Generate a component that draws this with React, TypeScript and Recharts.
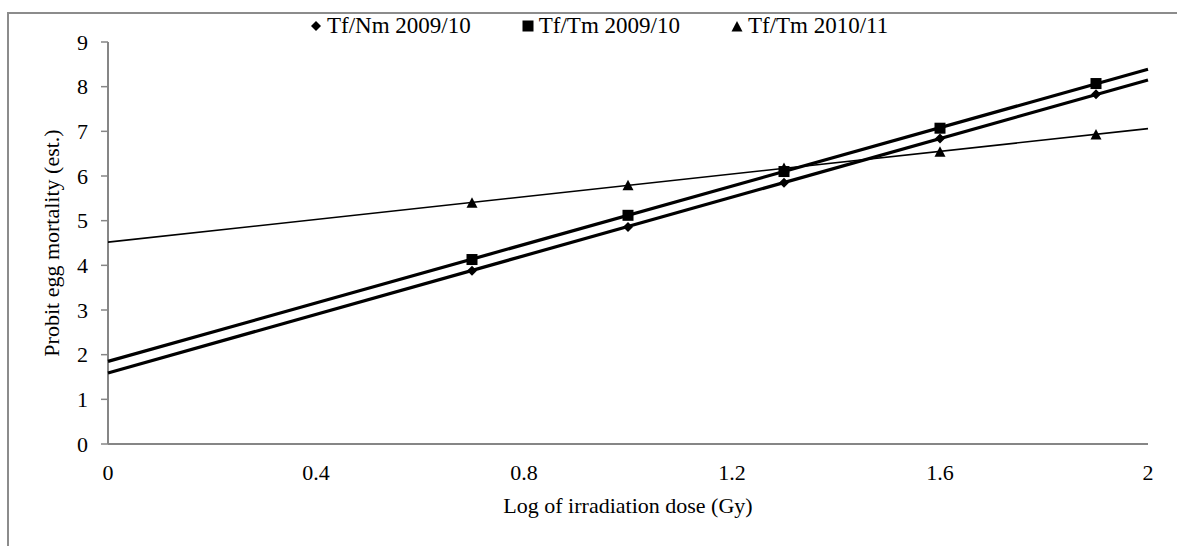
import React from 'react';
import { ScatterChart, Scatter, XAxis, YAxis } from 'recharts';

// log dose values of the tested doses
const DOSE_LOG = [0.7, 1.0, 1.3, 1.6, 1.9];

const NM_0910 = [3.88, 4.86, 5.85, 6.84, 7.83];
const TM_0910 = [4.13, 5.12, 6.1, 7.07, 8.07];
const TM_1011 = [5.39, 5.78, 6.17, 6.53, 6.92];

// linear trendlines, read at both ends of the axis
const TREND_X = [0, 2];
const NM_0910_TREND = [1.59, 8.15];
const TM_0910_TREND = [1.85, 8.39];
const TM_1011_TREND = [4.52, 7.06];

const X_TICKS = [0, 0.4, 0.8, 1.2, 1.6, 2];
const Y_TICKS = [0, 1, 2, 3, 4, 5, 6, 7, 8, 9];

const SERIES_NAMES = ['Tf/Nm 2009/10', 'Tf/Tm 2009/10', 'Tf/Tm 2010/11'];

const FONT = '"Liberation Serif", "Times New Roman", serif';
const AXIS_GREY = '#868686';

const toPoints = (xs: number[], ys: number[]) => xs.map((x, i) => ({ x, y: ys[i] }));

const Diamond = ({ cx, cy }: any) => (
  <polygon points={`${cx},${cy - 5} ${cx + 5},${cy} ${cx},${cy + 5} ${cx - 5},${cy}`} fill="#000" />
);
const Square = ({ cx, cy }: any) => <rect x={cx - 5.5} y={cy - 5.5} width={11} height={11} fill="#000" />;
const Triangle = ({ cx, cy }: any) => (
  <polygon points={`${cx},${cy - 6} ${cx + 5.5},${cy + 4.5} ${cx - 5.5},${cy + 4.5}`} fill="#000" />
);
const NoDot = () => <g />;

const legendIcon = (index: number) => {
  if (index === 0) return <Diamond cx={6} cy={6} />;
  if (index === 1) return <Square cx={6} cy={6} />;
  return <Triangle cx={6} cy={7} />;
};

// legend sits over the chart, like the Excel one
const ChartLegend = () => (
  <div
    style={{
      position: 'absolute', left: 310, top: 14, display: 'flex', alignItems: 'center',
      fontFamily: FONT, fontSize: 23, lineHeight: '23px', color: '#000', whiteSpace: 'nowrap',
    }}
  >
    {SERIES_NAMES.map((name, index) => (
      <div key={`legend-${index}`} style={{ display: 'flex', alignItems: 'center', marginRight: 51 }}>
        <svg width={12} height={12} style={{ marginRight: 5 }}>
          {legendIcon(index)}
        </svg>
        <span>{name}</span>
      </div>
    ))}
  </div>
);

const YTitle = ({ viewBox }: any) => {
  const cy = viewBox.y + viewBox.height / 2;
  return (
    <text x={59} y={cy} transform={`rotate(-90, 59, ${cy})`} textAnchor="middle" fill="#000" fontSize={22} fontFamily={FONT}>
      Probit egg mortality (est.)
    </text>
  );
};

const XTitle = ({ viewBox }: any) => {
  const cx = viewBox.x + viewBox.width / 2;
  return (
    <text x={cx} y={513} textAnchor="middle" fill="#000" fontSize={22} fontFamily={FONT}>
      Log of irradiation dose (Gy)
    </text>
  );
};

export default function App() {
  const tick = { fill: '#000', fontSize: 22, fontFamily: FONT };
  return (
    <div style={{ position: 'absolute', left: 0, top: 0, width: 1177, height: 546, overflow: 'hidden', background: '#fff' }}>
      <div style={{ position: 'absolute', left: 7, top: 12, width: 1400, height: 800, border: `2px solid #8c8c8c`, boxSizing: 'border-box' }} />
      <div style={{ position: 'absolute', left: 0, top: 0 }}>
        <ScatterChart width={1177} height={546} margin={{ top: 42, right: 29, bottom: 0, left: 0 }}>
          <XAxis
            type="number"
            dataKey="x"
            domain={[0, 2]}
            ticks={X_TICKS}
            interval={0}
            height={102}
            tickLine={false}
            tickSize={8}
            tickMargin={12}
            axisLine={{ stroke: AXIS_GREY, strokeWidth: 2 }}
            tick={tick}
            label={{ content: XTitle }}
          />
          <YAxis
            type="number"
            dataKey="y"
            domain={[0, 9]}
            ticks={Y_TICKS}
            interval={0}
            width={108}
            tickSize={7}
            tickMargin={13}
            axisLine={{ stroke: AXIS_GREY, strokeWidth: 2 }}
            tickLine={{ stroke: AXIS_GREY, strokeWidth: 1.5 }}
            tick={tick}
            label={{ content: YTitle }}
          />

          <Scatter data={toPoints(TREND_X, NM_0910_TREND)} line={{ stroke: '#000', strokeWidth: 3.2 }} shape={NoDot} legendType="none" isAnimationActive={false} />
          <Scatter data={toPoints(TREND_X, TM_0910_TREND)} line={{ stroke: '#000', strokeWidth: 3.2 }} shape={NoDot} legendType="none" isAnimationActive={false} />
          <Scatter data={toPoints(TREND_X, TM_1011_TREND)} line={{ stroke: '#000', strokeWidth: 1.6 }} shape={NoDot} legendType="none" isAnimationActive={false} />

          <Scatter name={SERIES_NAMES[0]} data={toPoints(DOSE_LOG, NM_0910)} shape={Diamond} isAnimationActive={false} />
          <Scatter name={SERIES_NAMES[1]} data={toPoints(DOSE_LOG, TM_0910)} shape={Square} isAnimationActive={false} />
          <Scatter name={SERIES_NAMES[2]} data={toPoints(DOSE_LOG, TM_1011)} shape={Triangle} isAnimationActive={false} />
        </ScatterChart>
      </div>
      <ChartLegend />
    </div>
  );
}
